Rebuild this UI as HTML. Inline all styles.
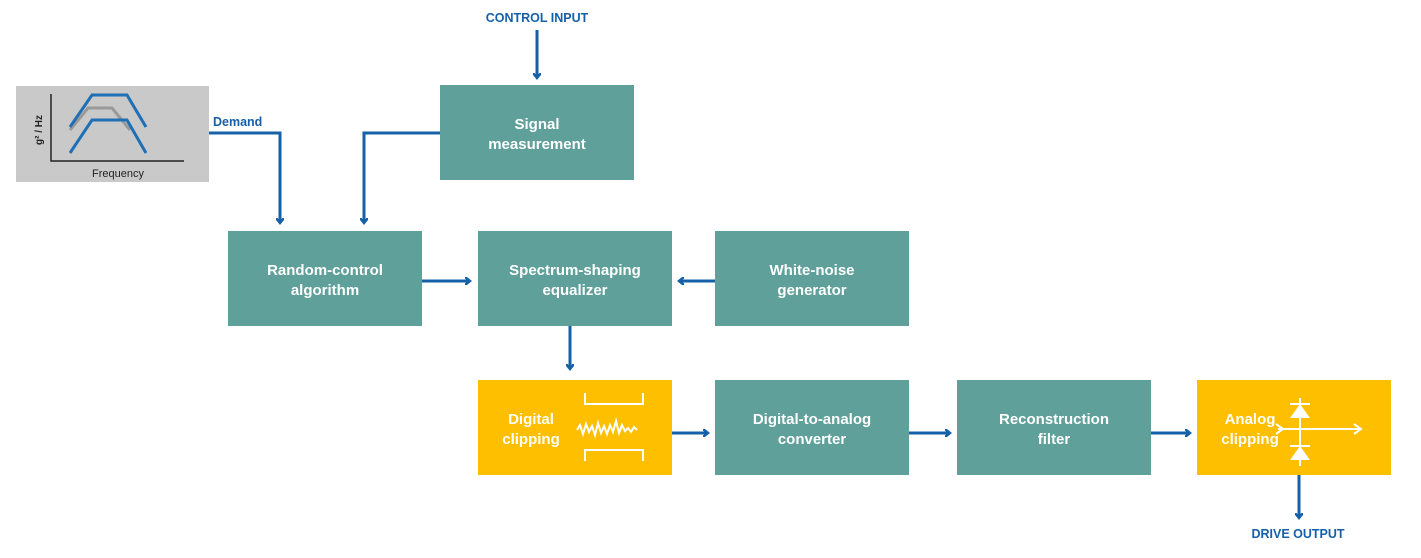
<!DOCTYPE html><html><head><style>
body{margin:0;background:#fff;width:1421px;height:553px;overflow:hidden}
</style></head><body>
<svg width="1421" height="553" xmlns="http://www.w3.org/2000/svg" font-family="Liberation Sans, sans-serif" font-weight="bold">
<defs><marker id="a" markerWidth="8" markerHeight="8" refX="4" refY="4" orient="auto" markerUnits="userSpaceOnUse"><path d="M0,0 L5,4 L0,8" fill="none" stroke="#1560a8" stroke-width="2.5"/></marker></defs>
<g fill="#5fa09a">
<rect x="440" y="85" width="194" height="95"/>
<rect x="228" y="231" width="194" height="95"/>
<rect x="478" y="231" width="194" height="95"/>
<rect x="715" y="231" width="194" height="95"/>
<rect x="715" y="380" width="194" height="95"/>
<rect x="957" y="380" width="194" height="95"/>
</g>
<g fill="#fdbf00"><rect x="478" y="380" width="194" height="95"/><rect x="1197" y="380" width="194" height="95"/></g>
<rect x="16" y="86" width="193" height="96" fill="#c9c9c9"/>
<path d="M51,94 V161 H184" stroke="#222" stroke-width="1.5" fill="none"/>
<path d="M70,130 L88,108 H112 L130,130" stroke="#999" stroke-width="3" fill="none"/>
<path d="M70,127 L92,95 H127 L146,127" stroke="#1f6fb5" stroke-width="3" fill="none"/>
<path d="M70,153 L92,120 H127 L146,153" stroke="#1f6fb5" stroke-width="3" fill="none"/>
<text x="118" y="177" font-size="11" font-weight="normal" text-anchor="middle" fill="#222">Frequency</text>
<text transform="translate(42,130) rotate(-90)" font-size="10" text-anchor="middle" fill="#222">g² / Hz</text>
<g stroke="#1560a8" stroke-width="3" fill="none" marker-end="url(#a)">
<path d="M537,30 V77"/>
<path d="M209,133 H280 V222"/>
<path d="M440,133 H364 V222"/>
<path d="M422,281 H469"/>
<path d="M715,281 H680"/>
<path d="M570,326 V368"/>
<path d="M672,433 H707"/>
<path d="M909,433 H949"/>
<path d="M1151,433 H1189"/>
<path d="M1299,475 V517"/>
</g>
<g fill="#1560a8" font-size="12.5">
<text x="537" y="22" text-anchor="middle">CONTROL INPUT</text>
<text x="1298" y="538" text-anchor="middle">DRIVE OUTPUT</text>
<text x="213" y="126">Demand</text>
</g>
<g fill="#fff" font-size="15" text-anchor="middle">
<text x="537" y="129">Signal</text><text x="537" y="149">measurement</text>
<text x="325" y="275">Random-control</text><text x="325" y="295">algorithm</text>
<text x="575" y="275">Spectrum-shaping</text><text x="575" y="295">equalizer</text>
<text x="812" y="275">White-noise</text><text x="812" y="295">generator</text>
<text x="812" y="424">Digital-to-analog</text><text x="812" y="444">converter</text>
<text x="1054" y="424">Reconstruction</text><text x="1054" y="444">filter</text>
<text x="531" y="424">Digital</text><text x="531" y="444">clipping</text>
<text x="1250" y="424">Analog</text><text x="1250" y="444">clipping</text>
</g>
<g stroke="#fff" stroke-width="2" fill="none">
<path d="M585,393 V404 H643 V393"/>
<path d="M585,461 V450 H643 V461"/>
<path d="M577,430 l3,-5 l3,9 l3,-10 l3,8 l3,-6 l3,9 l3,-12 l3,10 l3,-7 l3,8 l3,-9 l3,7 l3,-11 l3,12 l3,-8 l3,6 l3,-3 l3,4 l3,-5 l3,3"/>
<path d="M1300,398 V466 M1278,429 H1361 M1354,424 L1361,429 L1354,434 M1276,424 L1283,429 L1276,434 M1290,404 H1310 M1290,446 H1310"/>
</g>
<g fill="#fff"><path d="M1300,404 L1290,418 H1310Z"/><path d="M1300,446 L1290,460 H1310Z"/></g>
</svg>
</body></html>
